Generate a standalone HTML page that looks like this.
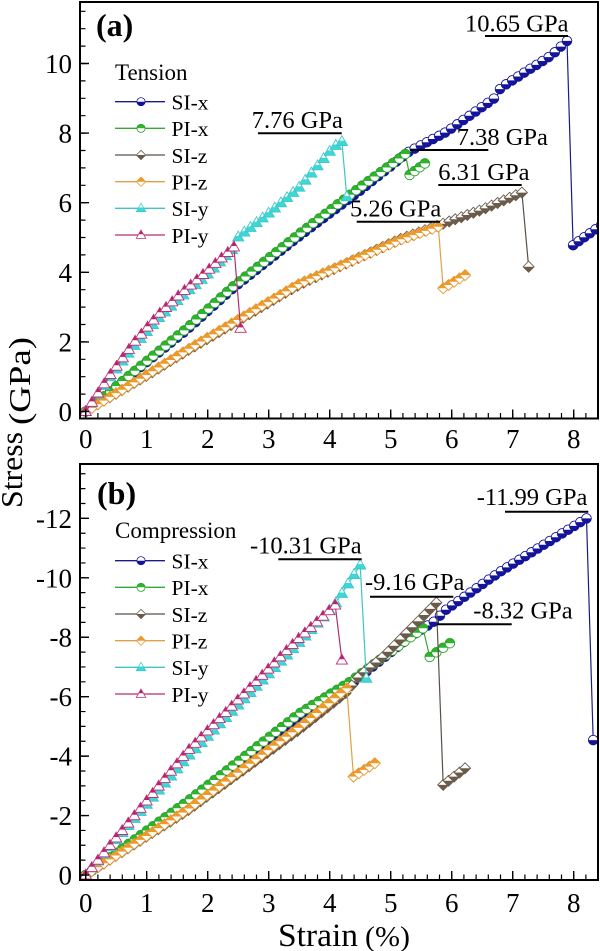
<!DOCTYPE html>
<html><head><meta charset="utf-8">
<style>html,body{margin:0;padding:0;background:#fff}svg{display:block}</style>
</head><body>
<svg id="s" xmlns="http://www.w3.org/2000/svg" width="600" height="951" viewBox="0 0 600 951" font-family="'Liberation Serif','Times New Roman',serif">
<defs>
<clipPath id="ca"><rect x="81" y="3" width="516" height="414.5"/></clipPath>
<clipPath id="cb"><rect x="81" y="465" width="516" height="414"/></clipPath>
<g id="mSIx"><circle r="4.8" fill="#fff"/><path d="M-4.8,0A4.8,4.8 0 0 0 4.8,0Z" fill="#14149a"/><circle r="4.8" fill="none" stroke="#14149a" stroke-width="0.9"/></g>
<g id="mPIx"><circle r="4.8" fill="#fff"/><path d="M-4.8,0A4.8,4.8 0 0 1 4.8,0Z" fill="#2cb42c"/><circle r="4.8" fill="none" stroke="#2ca02c" stroke-width="0.9"/></g>
<g id="mSIz"><polygon points="0,-5.5 5.5,0 0,5.5 -5.5,0" fill="#fff"/><polygon points="-5.5,0 5.5,0 0,5.5" fill="#6b5b4a"/><polygon points="0,-5.5 5.5,0 0,5.5 -5.5,0" fill="none" stroke="#6b5b4a" stroke-width="0.9"/></g>
<g id="mPIz"><polygon points="0,-5.5 5.5,0 0,5.5 -5.5,0" fill="#fff"/><polygon points="-5.5,0 5.5,0 0,-5.5" fill="#ee9a2a"/><polygon points="0,-5.5 5.5,0 0,5.5 -5.5,0" fill="none" stroke="#e8962a" stroke-width="0.9"/></g>
<g id="mSIy"><polygon points="0,-5.8 5.6,4 -5.6,4" fill="#fff"/><polygon points="-2.8,-0.9 2.8,-0.9 5.6,4 -5.6,4" fill="#3fd6d6"/><polygon points="0,-5.8 5.6,4 -5.6,4" fill="none" stroke="#3cc8c8" stroke-width="0.9"/></g>
<g id="mPIy"><polygon points="0,-5.8 5.6,4 -5.6,4" fill="#fff"/><polygon points="0,-5.8 2.8,-0.9 -2.8,-0.9" fill="#b5236e"/><polygon points="0,-5.8 5.6,4 -5.6,4" fill="none" stroke="#c03078" stroke-width="0.9"/></g>
</defs>
<rect width="600" height="951" fill="#fff"/>

<!-- Panel (a) data group -->
<g id="ga" clip-path="url(#ca)"></g>
<!-- Panel (b) data group -->
<g id="gb" clip-path="url(#cb)"></g>

<!-- Panel (a) frame and ticks -->
<rect x="80" y="2" width="518" height="416.5" fill="none" stroke="#000" stroke-width="2"/>
<line x1="85.1" y1="415.25" x2="598" y2="415.25" stroke="#000" stroke-width="4.5" stroke-dasharray="1.2 11"/>
<line x1="85.0" y1="413.5" x2="598" y2="413.5" stroke="#000" stroke-width="8" stroke-dasharray="1.4 59.6"/>
<line x1="83.25" y1="412.1" x2="83.25" y2="3" stroke="#000" stroke-width="4.5" stroke-dasharray="1.2 16.2"/>
<line x1="85" y1="412.2" x2="85" y2="3" stroke="#000" stroke-width="8" stroke-dasharray="1.4 68.2"/>

<!-- Panel (b) frame and ticks -->
<rect x="80" y="464" width="518" height="416" fill="none" stroke="#000" stroke-width="2"/>
<line x1="85.1" y1="876.75" x2="598" y2="876.75" stroke="#000" stroke-width="4.5" stroke-dasharray="1.2 11"/>
<line x1="85.0" y1="875" x2="598" y2="875" stroke="#000" stroke-width="8" stroke-dasharray="1.4 59.6"/>
<line x1="83.25" y1="875.6" x2="83.25" y2="465" stroke="#000" stroke-width="4.5" stroke-dasharray="1.2 13.66"/>
<line x1="85" y1="875.7" x2="85" y2="465" stroke="#000" stroke-width="8" stroke-dasharray="1.4 58.04"/>

<!-- Tick labels (a) -->
<g font-size="27" fill="#000" text-anchor="end">
<text x="72" y="421">0</text>
<text x="72" y="351.4">2</text>
<text x="72" y="281.8">4</text>
<text x="72" y="212.2">6</text>
<text x="72" y="142.6">8</text>
<text x="72" y="73">10</text>
</g>
<g font-size="27" fill="#000" text-anchor="middle">
<text x="85.7" y="448">0</text>
<text x="146.7" y="448">1</text>
<text x="207.7" y="448">2</text>
<text x="268.7" y="448">3</text>
<text x="329.7" y="448">4</text>
<text x="390.7" y="448">5</text>
<text x="451.7" y="448">6</text>
<text x="512.7" y="448">7</text>
<text x="573.7" y="448">8</text>
</g>

<!-- Tick labels (b) -->
<g font-size="27" fill="#000" text-anchor="end">
<text x="72" y="884.5">0</text>
<text x="72" y="825.1">-2</text>
<text x="72" y="765.6">-4</text>
<text x="72" y="706.2">-6</text>
<text x="72" y="646.7">-8</text>
<text x="72" y="587.3">-10</text>
<text x="72" y="527.9">-12</text>
</g>
<g font-size="27" fill="#000" text-anchor="middle">
<text x="85.7" y="912">0</text>
<text x="146.7" y="912">1</text>
<text x="207.7" y="912">2</text>
<text x="268.7" y="912">3</text>
<text x="329.7" y="912">4</text>
<text x="390.7" y="912">5</text>
<text x="451.7" y="912">6</text>
<text x="512.7" y="912">7</text>
<text x="573.7" y="912">8</text>
</g>

<!-- Axis titles -->
<text transform="translate(22,470) rotate(-90)" text-anchor="middle" font-size="31" textLength="76" lengthAdjust="spacingAndGlyphs">Stress</text>
<text transform="translate(30,381) rotate(-90)" text-anchor="middle" font-size="31" textLength="88" lengthAdjust="spacingAndGlyphs">(GPa)</text>
<text x="278" y="946" font-size="33" textLength="80" lengthAdjust="spacingAndGlyphs">Strain</text>
<text x="365" y="946" font-size="28" textLength="45" lengthAdjust="spacingAndGlyphs">(%)</text>

<!-- Panel labels -->
<text x="96" y="36" font-size="32" font-weight="bold">(a)</text>
<text x="97" y="504" font-size="32" font-weight="bold">(b)</text>

<!-- Legend (a) -->
<text x="115" y="80" font-size="23">Tension</text>
<g font-size="21.5">
<line x1="115" y1="101.7" x2="165" y2="101.7" stroke="#1c1c80" stroke-width="1.3"/><use href="#mSIx" transform="translate(141,101.7) scale(0.85)"/><text x="171.5" y="109.5">SI-x</text>
<line x1="115" y1="128.3" x2="165" y2="128.3" stroke="#36a836" stroke-width="1.3"/><use href="#mPIx" transform="translate(141,128.3) scale(0.85)"/><text x="171.5" y="136.1">PI-x</text>
<line x1="115" y1="155" x2="165" y2="155" stroke="#5a5048" stroke-width="1.3"/><use href="#mSIz" transform="translate(141,155) scale(0.85)"/><text x="171.5" y="162.8">SI-z</text>
<line x1="115" y1="181.7" x2="165" y2="181.7" stroke="#e0a048" stroke-width="1.3"/><use href="#mPIz" transform="translate(141,181.7) scale(0.85)"/><text x="171.5" y="189.5">PI-z</text>
<line x1="115" y1="208.3" x2="165" y2="208.3" stroke="#40c4c4" stroke-width="1.3"/><use href="#mSIy" transform="translate(141,208.3) scale(0.85)"/><text x="171.5" y="216.1">SI-y</text>
<line x1="115" y1="235" x2="165" y2="235" stroke="#b03070" stroke-width="1.3"/><use href="#mPIy" transform="translate(141,235) scale(0.85)"/><text x="171.5" y="242.8">PI-y</text>
</g>

<!-- Legend (b) -->
<text x="115" y="538" font-size="23">Compression</text>
<g font-size="21.5">
<line x1="115" y1="560.7" x2="165" y2="560.7" stroke="#1c1c80" stroke-width="1.3"/><use href="#mSIx" transform="translate(141,560.7) scale(0.85)"/><text x="171.5" y="568.5">SI-x</text>
<line x1="115" y1="587.3" x2="165" y2="587.3" stroke="#36a836" stroke-width="1.3"/><use href="#mPIx" transform="translate(141,587.3) scale(0.85)"/><text x="171.5" y="595.1">PI-x</text>
<line x1="115" y1="614" x2="165" y2="614" stroke="#5a5048" stroke-width="1.3"/><use href="#mSIz" transform="translate(141,614) scale(0.85)"/><text x="171.5" y="621.8">SI-z</text>
<line x1="115" y1="640.7" x2="165" y2="640.7" stroke="#e0a048" stroke-width="1.3"/><use href="#mPIz" transform="translate(141,640.7) scale(0.85)"/><text x="171.5" y="648.5">PI-z</text>
<line x1="115" y1="667.3" x2="165" y2="667.3" stroke="#40c4c4" stroke-width="1.3"/><use href="#mSIy" transform="translate(141,667.3) scale(0.85)"/><text x="171.5" y="675.1">SI-y</text>
<line x1="115" y1="694" x2="165" y2="694" stroke="#b03070" stroke-width="1.3"/><use href="#mPIy" transform="translate(141,694) scale(0.85)"/><text x="171.5" y="701.8">PI-y</text>
</g>

<!-- Annotations (a) -->
<g font-size="24.5" fill="#000">
<text x="465" y="31.7">10.65 GPa</text>
<text x="251.7" y="128">7.76 GPa</text>
<text x="456.7" y="145">7.38 GPa</text>
<text x="438.3" y="180">6.31 GPa</text>
<text x="350" y="216.7">5.26 GPa</text>
</g>
<g stroke="#000" stroke-width="2">
<line x1="485" y1="36" x2="568" y2="36"/>
<line x1="258" y1="133.3" x2="341.7" y2="133.3"/>
<line x1="410" y1="150" x2="488.3" y2="150"/>
<line x1="438.3" y1="185" x2="521.7" y2="185"/>
<line x1="356.7" y1="221.7" x2="440" y2="221.7"/>
</g>

<!-- Annotations (b) -->
<g font-size="24.5" fill="#000">
<text x="476.7" y="505">-11.99 GPa</text>
<text x="250" y="553.3">-10.31 GPa</text>
<text x="365" y="590">-9.16 GPa</text>
<text x="473.3" y="618.3">-8.32 GPa</text>
</g>
<g stroke="#000" stroke-width="2">
<line x1="505" y1="511.7" x2="588.3" y2="511.7"/>
<line x1="278.3" y1="559.3" x2="361.7" y2="559.3"/>
<line x1="370" y1="596.7" x2="453.3" y2="596.7"/>
<line x1="436.7" y1="624.3" x2="511.7" y2="624.3"/>
</g>
</svg>
<script>
(function(){
var NS='http://www.w3.org/2000/svg';
function el(t,a,p){var e=document.createElementNS(NS,t);for(var k in a){e.setAttribute(k,a[k]);}p.appendChild(e);return e;}
var P={
 a:{x:function(s){return 85.7+61*s;},y:function(v){return 411.5-34.8*v;},g:'ga'},
 b:{x:function(s){return 85.7+61*s;},y:function(v){return 875-29.72*v;},g:'gb'}
};
var sty={
 SIx:{c:'#1c1c80',m:'mSIx'},
 PIx:{c:'#36a836',m:'mPIx'},
 SIz:{c:'#5a5048',m:'mSIz'},
 PIz:{c:'#e0a048',m:'mPIz'},
 SIy:{c:'#40c4c4',m:'mSIy'},
 PIy:{c:'#b03070',m:'mPIy'}
};
function interp(r,s){for(var i=1;i<r.length;i++){if(s<=r[i][0]+1e-9){var a=r[i-1],b=r[i];var d=b[0]-a[0];var t=d?(s-a[0])/d:1;return a[1]+t*(b[1]-a[1]);}}return r[r.length-1][1];}
function draw(panel,name,runs){
 var T=P[panel],g=document.getElementById(T.g);
 var pts=[];
 runs.forEach(function(r){r.forEach(function(p){pts.push(T.x(p[0]).toFixed(1)+','+T.y(p[1]).toFixed(1));});});
 el('polyline',{points:pts.join(' '),fill:'none',stroke:sty[name].c,'stroke-width':'1.2'},g);
 runs.forEach(function(r){
  var ms=[];
  if(r.length==1){ms.push(r[0]);}
  else{
   var s0=r[0][0],s1=r[r.length-1][0];
   var n=Math.max(1,Math.round((s1-s0)/0.1));var st=(s1-s0)/n;
   for(var i=0;i<=n;i++){var s=s0+i*st;ms.push([s,interp(r,s)]);}
  }
  ms.forEach(function(p){
   var u=el('use',{x:T.x(p[0]).toFixed(1),y:T.y(p[1]).toFixed(1)},g);
   u.setAttribute('href','#'+sty[name].m);
   u.setAttributeNS('http://www.w3.org/1999/xlink','xlink:href','#'+sty[name].m);
  });
 });
}
var A={
 SIx:[[[0,0],[1,1.42],[1.66,2.35],[2.42,3.55],[3.51,5.05],[4.5,6.35],[5.3,7.47],[5.92,8.04],[6.74,9.05],[6.8,9.3],[7.64,10.24],[7.89,10.65]],[[7.99,4.78],[8.45,5.35]]],
 PIx:[[[0,0],[1,1.45],[1.66,2.4],[2.42,3.6],[3.51,5.12],[4.5,6.45],[5.24,7.4]],[[5.31,6.8],[5.56,7.13]]],
 SIz:[[[0,0],[1,1.03],[1.66,1.74],[3.51,3.65],[5.15,4.95],[5.8,5.36],[6.5,5.8],[7.15,6.29]],[[7.26,4.16]]],
 PIz:[[[0,0],[1,1.05],[1.66,1.77],[3.51,3.68],[5.15,4.93],[5.78,5.31]],[[5.86,3.54],[6.22,3.92]]],
 SIy:[[[0,0],[0.4,1.0],[0.8,1.9],[1.2,2.7],[1.6,3.35],[2.0,3.95],[2.4,4.65],[2.45,4.95],[3.0,5.7],[3.51,6.46],[4.06,7.6],[4.2,7.76]],[[4.28,6.17]]],
 PIy:[[[0,0],[0.4,1.05],[0.8,2.0],[1.2,2.8],[1.6,3.45],[2.0,4.05],[2.43,4.73]],[[2.54,2.39]]]
};
var B={
 SIx:[[[0,0],[1.66,2.4],[3.51,5.3],[4.33,6.4],[5.32,8.02],[5.75,8.58],[5.86,8.86],[6.79,10.2],[7.72,11.38],[8.21,12.0]],[[8.32,4.54]]],
 PIx:[[[0,0],[1.66,2.47],[3.51,5.45],[4.33,6.5],[5.15,7.74],[5.53,8.3]],[[5.64,7.34],[5.97,7.8]]],
 SIz:[[[0,0],[1.66,2.15],[3.51,4.9],[4.28,6.15],[4.47,6.67],[4.88,7.35],[5.75,9.16]],[[5.86,3.03],[6.22,3.59]]],
 PIz:[[[0,0],[1.66,2.19],[3.51,4.99],[4.28,6.28]],[[4.39,3.31],[4.74,3.76]]],
 SIy:[[[0,0],[1.66,3.95],[3.46,7.74],[4.06,9.03],[4.5,10.43]],[[4.6,6.62]]],
 PIy:[[[0,0],[1.66,4.15],[3.46,7.9],[4.09,9.08]],[[4.2,7.23]]]
};
['SIx','PIx','SIz','PIz','SIy','PIy'].forEach(function(k){draw('a',k,A[k]);draw('b',k,B[k]);});
})();
</script>
</body></html>
